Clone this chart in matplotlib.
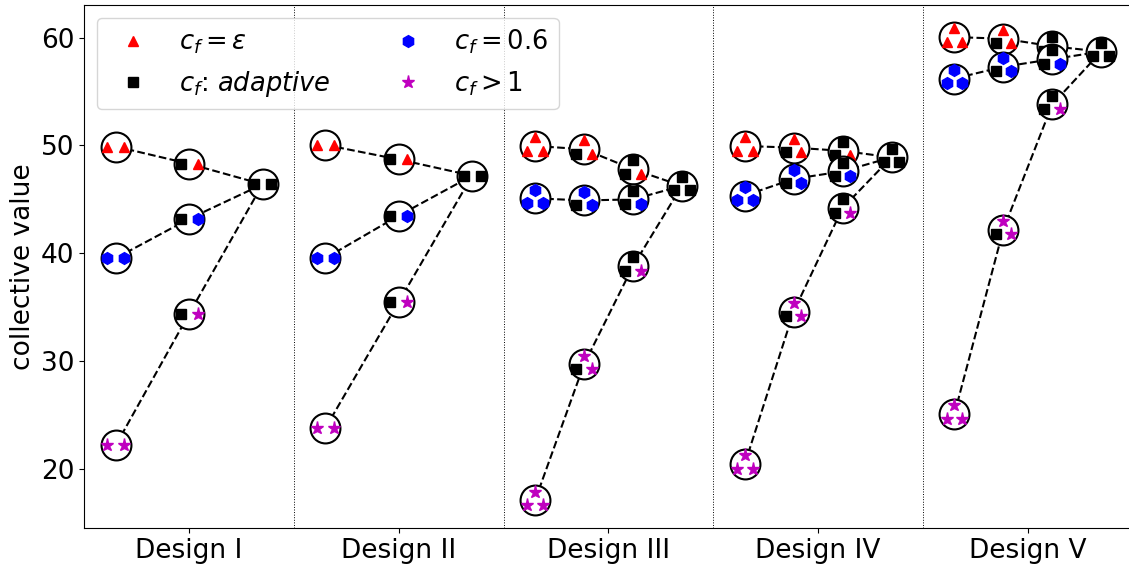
import matplotlib
matplotlib.use("Agg")
import matplotlib.pyplot as plt
from matplotlib.lines import Line2D
from matplotlib.transforms import ScaledTranslation

# ---- data -------------------------------------------------------------
designs = ["Design I", "Design II", "Design III", "Design IV", "Design V"]
n_agents = [2, 2, 3, 3, 3]

# collective value for a team with k adaptive agents (k = 0 .. n-1),
# the remaining agents using a fixed c_f
eps_values = [[49.9, 48.3], [50.05, 48.7], [49.95, 49.65, 47.8],
              [49.95, 49.8, 49.5], [60.05, 59.9, 59.2]]
mid_values = [[39.55, 43.2], [39.55, 43.5], [45.1, 44.9, 45.0],
              [45.35, 46.9, 47.6], [56.2, 57.3, 58.0]]
high_values = [[22.2, 34.4], [23.8, 35.5], [17.1, 29.7, 38.8],
               [20.45, 34.6, 44.2], [25.1, 42.2, 53.8]]
# all agents adaptive
adaptive_values = [46.4, 47.2, 46.25, 48.9, 58.7]

yticks = [20, 30, 40, 50, 60]

# ---- styles -----------------------------------------------------------
agent_style = {
    "eps": dict(marker="^", color="r", ms=7.5),
    "ada": dict(marker="s", color="k", ms=7.5),
    "mid": dict(marker="h", color="b", ms=8.5),
    "high": dict(marker="*", color="m", ms=9.5),
}
circle_ms = 21.5
half_width = 0.35

# marker offsets (points) inside a team circle
slots = {
    2: [(-6.1, 0.0), (6.1, 0.0)],
    3: [(-5.6, -3.3), (0.0, 6.3), (5.6, -3.3)],
}

fig = plt.figure(figsize=(11.29, 5.69), dpi=100)
ax = fig.add_axes([0.0747, 0.0715, 0.9285, 0.9202])
ax.spines["right"].set_visible(False)


def column_x(d, k):
    n = n_agents[d]
    return d - half_width + k * (2 * half_width) / n


def draw_team(x, y, members, z):
    ax.plot([x], [y], "o", ms=circle_ms, mfc="white", mec="k", mew=1.5,
            zorder=z)
    for (dx, dy), m in zip(slots[len(members)], members):
        st = agent_style[m]
        tr = ax.transData + ScaledTranslation(dx / 72, dy / 72,
                                              fig.dpi_scale_trans)
        ax.plot([x], [y], ls="none", transform=tr, zorder=z + 0.5, **st)


z = 3
for d in range(len(designs)):
    n = n_agents[d]
    x_last = column_x(d, n)
    for kind, table in (("eps", eps_values), ("mid", mid_values),
                        ("high", high_values)):
        vals = table[d]
        xs = [column_x(d, k) for k in range(n)] + [x_last]
        ys = list(vals) + [adaptive_values[d]]
        ax.plot(xs, ys, "--", color="k", lw=1.5, zorder=2)
        for k, v in enumerate(vals):
            members = ["ada"] * k + [kind] * (n - k)
            draw_team(column_x(d, k), v, members, z)
            z += 1
    draw_team(x_last, adaptive_values[d], ["ada"] * n, z)
    z += 1

for sep in range(len(designs) - 1):
    ax.axvline(sep + 0.5, color="k", ls=":", lw=0.7, zorder=1)

ax.set_xlim(-0.5, len(designs) - 0.5)
ax.set_ylim(14.5, 63.05)
ax.set_xticks(range(len(designs)))
ax.set_xticklabels(designs, fontsize=19)
ax.set_yticks(yticks)
ax.tick_params(axis="y", labelsize=19)
ax.set_ylabel("collective value", fontsize=19)

handles = [Line2D([], [], ls="none", **agent_style[k])
           for k in ("eps", "ada", "mid", "high")]
labels = [r"$c_f = \epsilon$", r"$c_f$: $adaptive$", r"$c_f = 0.6$",
          r"$c_f > 1$"]
ax.legend(handles, labels, loc="upper left", ncol=2, fontsize=18.5)

fig.savefig("out.png", dpi=100)
